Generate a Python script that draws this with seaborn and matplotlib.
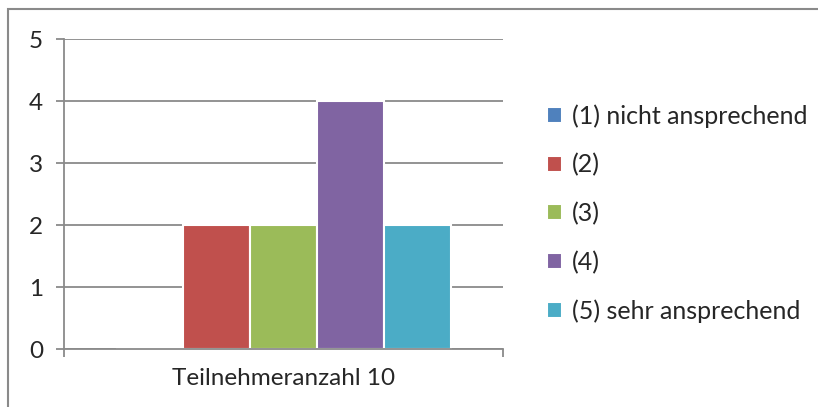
import pandas as pd
import matplotlib.pyplot as plt
import seaborn as sns
from matplotlib.patches import Rectangle

# === DONNÉES ===
category = ["Teilnehmeranzahl 10"]
series_labels = ["(1) nicht ansprechend", "(2)", "(3)", "(4)", "(5) sehr ansprechend"]
series_values = [0, 2, 2, 4, 2]
colors = ["#4F81BD", "#C0504D", "#9BBB59", "#8064A2", "#4BACC6"]

df = pd.DataFrame({
    "Gruppe": category * len(series_labels),
    "Bewertung": series_labels,
    "Anzahl": series_values,
})

sns.set_style("white")
plt.rcParams["font.family"] = ["Lato", "DejaVu Sans"]

fig = plt.figure(figsize=(8.18, 4.07), dpi=100)
ax = fig.add_axes([64 / 818, 1 - 349 / 407, (503 - 64) / 818, (349 - 39) / 407])

sns.barplot(data=df, x="Gruppe", y="Anzahl", hue="Bewertung", palette=colors,
            saturation=1, width=0.763, edgecolor="white", linewidth=1.5, ax=ax, legend=True)

grid_c = "#8a8a8a"
ax.set_ylim(0, 5)
ax.set_xlim(-0.5, 0.5)
ax.set_yticks(range(0, 6))
ax.yaxis.grid(True, color=grid_c, linewidth=1.3)
ax.set_axisbelow(True)
ax.set_xlabel("")
ax.set_ylabel("")

for side in ["top", "right"]:
    ax.spines[side].set_visible(False)
for side in ["left", "bottom"]:
    ax.spines[side].set_color(grid_c)
    ax.spines[side].set_linewidth(1.3)

ax.tick_params(axis="y", direction="out", length=6, width=1.3, color=grid_c,
               labelsize=17.5, pad=9, left=True)
ax.tick_params(axis="x", which="major", length=0, labelsize=17.5, pad=14)
ax.set_xticks([-0.5, 0.5], minor=True)
ax.tick_params(axis="x", which="minor", direction="out", length=6, width=1.3,
               color=grid_c, bottom=True)

handles, labels = ax.get_legend_handles_labels()
ax.legend(handles, labels, loc="upper left", bbox_to_anchor=(547 / 818, 1 - 104 / 407),
          bbox_transform=fig.transFigure, frameon=False, fontsize=18,
          handlelength=0.6, handleheight=0.6, handletextpad=0.4, labelspacing=1.02,
          borderpad=0, borderaxespad=0)

fig.patches.append(Rectangle((8 / 818, -0.1), 1.0, 1 - 9 / 407 + 0.1,
                             transform=fig.transFigure, fill=False,
                             edgecolor="#8a8a8a", linewidth=1.5))

fig.savefig("out.png", dpi=100)
